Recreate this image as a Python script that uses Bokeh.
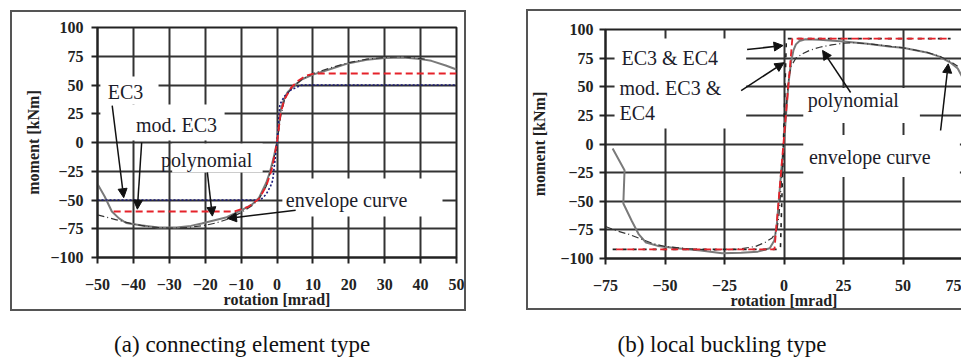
from bokeh.plotting import figure
from bokeh.models import FixedTicker, Label, BoxAnnotation, Arrow, NormalHead, Range1d
from bokeh.layouts import row, column
from bokeh.embed import file_html
from bokeh.resources import INLINE

# ---------------- data: panel (a) connecting element type ----------------
a_xticks = [-50, -40, -30, -20, -10, 0, 10, 20, 30, 40, 50]
a_yticks = [-100, -75, -50, -25, 0, 25, 50, 75, 100]

a_env_x = [-50, -48, -46, -44, -42, -38, -33, -28, -24, -21, -14, -10, -7, -5, -3, -2, -1, 0,
           0.5, 1, 2, 3, 5, 7, 10, 13, 16, 20, 25, 30, 35, 40, 43, 47, 50]
a_env_m = [-36, -47, -60, -66, -70, -72, -74, -74, -72.5, -70.5, -65, -59, -54, -48, -35, -26, -14, 0,
           15, 28, 38, 44, 50, 55, 59, 62, 65, 69, 72, 73.5, 74, 72.5, 71, 67, 63.5]

a_poly_x = [-50, -45, -40, -35, -30, -25, -20, -17, -14, -10, -7, -5, -3, -1, 0,
            1, 2, 3, 5, 7, 10, 15, 20, 25, 30, 35, 40, 42]
a_poly_m = [-63, -67, -71, -73.5, -74.5, -74, -72, -70, -67, -61, -55, -49, -38, -17, 0,
            22, 36, 43, 50, 55, 60, 65, 69.5, 72.5, 74, 74.5, 73, 72]

a_ec3_x = [-50, -4.6, -3, -1.8, -1.2, 0, 0.8, 2, 4, 7, 50]
a_ec3_m = [-50, -50, -45, -38, -33, 0, 33, 40, 46, 50, 50]

a_mod_x = [-45.5, -12, -8, -5, -3, -1.5, 0, 1, 2, 4, 6, 8, 10.5, 50]
a_mod_m = [-60, -60, -56, -49, -38, -24, 0, 25, 37, 48, 54, 58, 60, 60]

# ---------------- data: panel (b) local buckling type ----------------
b_xticks = [-75, -50, -25, 0, 25, 50, 75]
b_yticks = [-100, -75, -50, -25, 0, 25, 50, 75, 100]

b_env_x = [-72, -67, -67.5, -64, -61, -58, -53, -45, -35, -26, -18, -11, -6, -4, -3, -2, -1, 0,
           1, 2, 3, 4, 5, 6.5, 9, 15, 25, 35, 45, 50, 60, 65, 70, 73, 75]
b_env_m = [-4, -23, -52, -67, -79, -86, -89, -91, -93, -95.5, -95, -94, -91, -84, -70, -45, -20, 0,
           30, 55, 72, 82, 87, 90, 91.5, 91, 89.5, 87.5, 85, 84, 80, 76.5, 71, 66, 58]

b_poly_x = [-75, -70, -65, -60, -55, -50, -40, -30, -20, -12, -8, -5, -3, -2, -1, 0,
            1, 2, 3, 5, 8, 11, 15, 20, 25, 30, 40, 50, 60, 65, 70, 73]
b_poly_m = [-72, -76, -79, -83, -87, -89.5, -91.5, -92.5, -92, -89.5, -86, -82, -76, -60, -30, 0,
            35, 58, 68, 75, 79, 82, 84.5, 86.5, 88, 88.5, 86.5, 84, 80, 77, 72, 68]

b_ec_x = [-72, -1.5, 1, 70]
b_ec_m = [-92, -92, 92, 92]

b_mod_x = [-70.5, -4, 3.5, 70]
b_mod_m = [-92, -92, 92, 92]

caption_a = "(a) connecting element type"
caption_b = "(b) local buckling type"

SERIF = "Liberation Serif"
TXT = "#1c1c2a"
GRID = "#333333"
BOX = "2px solid #555555"


def make_panel(width, height, borders, margin, styles, xr, xticks, yticks,
               ylab_standoff, ylabel_standoff):
    bl, br, bt, bb = borders
    p = figure(width=width, height=height, output_backend="svg", toolbar_location=None,
               x_range=Range1d(*xr), y_range=Range1d(-100, 100),
               min_border_left=bl, min_border_right=br,
               min_border_top=bt, min_border_bottom=bb,
               margin=margin, styles=styles)
    p.background_fill_color = "white"
    p.border_fill_color = None
    p.outline_line_color = "#222222"
    p.outline_line_width = 2
    p.xaxis.ticker = FixedTicker(ticks=xticks)
    p.yaxis.ticker = FixedTicker(ticks=yticks)
    for ax in (p.xaxis[0], p.yaxis[0]):
        ax.major_label_text_font = SERIF
        ax.major_label_text_font_style = "bold"
        ax.major_label_text_font_size = "16px"
        ax.major_label_text_color = "#222222"
        ax.axis_label_text_font = SERIF
        ax.axis_label_text_font_style = "bold"
        ax.axis_label_text_font_size = "16px"
        ax.axis_label_text_color = "#222222"
        ax.axis_line_color = "#222222"
        ax.axis_line_width = 2
        ax.major_tick_line_color = "#222222"
        ax.major_tick_line_width = 2
        ax.major_tick_out = 6
        ax.major_tick_in = 0
        ax.minor_tick_line_color = None
    p.xaxis.axis_label = "rotation [mrad]"
    p.yaxis.axis_label = "moment [kNm]"
    p.xaxis.major_label_standoff = 15
    p.xaxis.axis_label_standoff = -2
    p.yaxis.major_label_standoff = ylab_standoff
    p.yaxis.axis_label_standoff = ylabel_standoff
    p.grid.grid_line_color = GRID
    p.grid.grid_line_width = 2
    p.xgrid.ticker = FixedTicker(ticks=xticks)
    p.ygrid.ticker = FixedTicker(ticks=yticks)
    return p


def white_box(p, l, r, b, t):
    p.add_layout(BoxAnnotation(left=l, right=r, bottom=b, top=t, fill_color="white",
                               fill_alpha=1.0, line_color=None))


def text(p, x, y, s, align="center"):
    p.add_layout(Label(x=x, y=y, text=s, text_font=SERIF, text_font_size="20px",
                       text_color=TXT, text_align=align, text_baseline="middle"))


def arrow(p, x0, y0, x1, y1):
    p.add_layout(Arrow(end=NormalHead(size=9, fill_color="#111111", line_color="#111111"),
                       x_start=x0, y_start=y0, x_end=x1, y_end=y1,
                       line_color="#111111", line_width=1.5))


def caption_fig(width, s, xfrac):
    c = figure(width=width, height=44, output_backend="svg", toolbar_location=None,
               x_range=Range1d(0, 1), y_range=Range1d(0, 1), min_border=0,
               x_axis_type=None, y_axis_type=None)
    c.outline_line_color = None
    c.background_fill_color = "white"
    c.border_fill_color = "white"
    c.add_layout(Label(x=xfrac, y=0.364, text=s, text_font=SERIF, text_font_size="23px",
                       text_color="#111111", text_align="center", text_baseline="middle"))
    return c


# ---------------- panel (a) ----------------
pa = make_panel(456, 301, (85, 12, 15, 56), (10, 10, 5, 10), {"border": BOX},
                (-50, 50), a_xticks, a_yticks, 8, 5)
pa.line(a_env_x, a_env_m, line_color="#7a7a7a", line_width=2)
pa.line(a_poly_x, a_poly_m, line_color="#333333", line_width=1.2, line_dash="7 3 1 3")
pa.line(a_ec3_x, a_ec3_m, line_color="#1a1a7a", line_width=1.6, line_dash="2 2")
pa.line(a_mod_x, a_mod_m, line_color="#e5222a", line_width=1.8, line_dash="7 4")

white_box(pa, -49.2, -33.0, 33.0, 57.4)
white_box(pa, -49.2, -14.6, 1.7, 33.0)
white_box(pa, -29.2, -4.0, -26.1, -0.9)
white_box(pa, 1.5, 46.1, -64.3, -31.3)

text(pa, -42.2, 44.3, "EC3")
text(pa, -28.0, 14.8, "mod. EC3")
text(pa, -19.6, -14.8, "polynomial")
text(pa, 19.4, -49.6, "envelope curve")

arrow(pa, -45.9, 32, -42.7, -48)
arrow(pa, -37.7, 0, -38.9, -58)
arrow(pa, -19.4, -26, -18.0, -64)
arrow(pa, 5.2, -59, -13.8, -66)

ca = caption_fig(480, caption_a, 0.409)

# ---------------- panel (b) ----------------
pb = make_panel(435, 301, (76, 1, 18, 54), (9, 0, 6, 46),
                {"border-left": BOX, "border-top": BOX, "border-bottom": BOX},
                (-75, 75), b_xticks, b_yticks, 6, 9)
pb.line(b_env_x, b_env_m, line_color="#7a7a7a", line_width=2)
pb.line(b_poly_x, b_poly_m, line_color="#333333", line_width=1.2, line_dash="7 3 1 3")
pb.line(b_ec_x, b_ec_m, line_color="#222222", line_width=1.6, line_dash="4 6")
pb.line(b_mod_x, b_mod_m, line_color="#e5222a", line_width=1.8, line_dash="7 4")

white_box(pb, -71.2, -15.9, 13.5, 92.1)
white_box(pb, 8.1, 57.1, 18.3, 48.9)
white_box(pb, 8.1, 73.9, -28.8, 7.9)

text(pb, -68.3, 74.7, "EC3 & EC4", align="left")
text(pb, -69.1, 48.5, "mod. EC3 &", align="left")
text(pb, -69.1, 27.5, "EC4", align="left")
text(pb, 10.0, 38.0, "polynomial", align="left")
text(pb, 10.5, -11.0, "envelope curve", align="left")

arrow(pb, -15.5, 82.5, -0.4, 86)
arrow(pb, -18.0, 46.7, 0.0, 71)
arrow(pb, 28.0, 45.0, 16.2, 81.7)
arrow(pb, 65.8, 11.8, 69.0, 70)

cb = caption_fig(483, caption_b, 0.406)

layout = row(column(pa, ca, spacing=0), column(pb, cb, spacing=0), spacing=0)
open("out.html", "w").write(file_html(layout, INLINE))
